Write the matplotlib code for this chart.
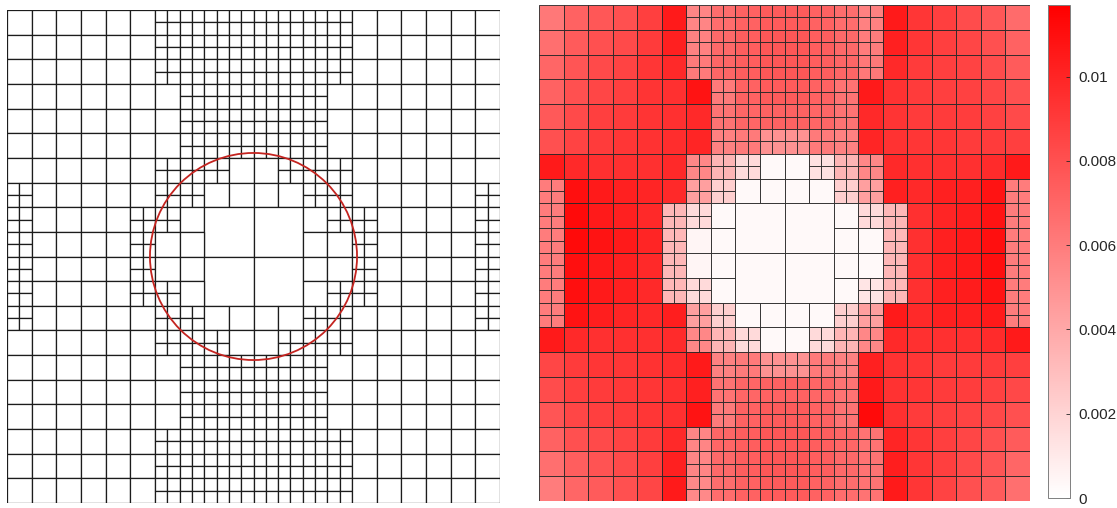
import numpy as np
import matplotlib
matplotlib.use('Agg')
import matplotlib.pyplot as plt
from matplotlib.patches import Rectangle, Circle
from matplotlib.collections import PatchCollection
from matplotlib.colors import LinearSegmentedColormap, Normalize

plt.rcParams['font.family'] = ['Liberation Sans', 'DejaVu Sans']

# Verfeinerungsstufe je Block im 20x20-Raster:
# M = eine Zelle, F = in 4 Zellen geteilt, B = Teil einer 2x2-Grobzelle
mesh_rows = [
    "MMMMMMFFFFFFFFMMMMMM",
    "MMMMMMFFFFFFFFMMMMMM",
    "MMMMMMFFFFFFFFMMMMMM",
    "MMMMMMMFFFFFFMMMMMMM",
    "MMMMMMMFFFFFFMMMMMMM",
    "MMMMMMMFFFFFFMMMMMMM",
    "MMMMMMFFFMMFFFMMMMMM",
    "FMMMMMFFMMMMFFMMMMMF",
    "FMMMMFFMBBBBMFFMMMMF",
    "FMMMMFMMBBBBMMFMMMMF",
    "FMMMMFMMBBBBMMFMMMMF",
    "FMMMMFFMBBBBMFFMMMMF",
    "FMMMMMFFMMMMFFMMMMMF",
    "MMMMMMFFFMMFFFMMMMMM",
    "MMMMMMMFFFFFFMMMMMMM",
    "MMMMMMMFFFFFFMMMMMMM",
    "MMMMMMMFFFFFFMMMMMMM",
    "MMMMMMFFFFFFFFMMMMMM",
    "MMMMMMFFFFFFFFMMMMMM",
    "MMMMMMFFFFFFFFMMMMMM",
]

# Fehlerindikator je Block (in 1e-3)
err_rows = [
    [6.2, 7.2, 7.7, 8.0, 8.8, 10.5, 5.6, 6.7, 7.2, 7.5, 7.5, 7.2, 6.7, 5.8, 10.5, 9.2, 8.8, 8.2, 7.7, 6.8],
    [6.6, 7.5, 8.0, 8.3, 9.0, 10.2, 5.8, 6.9, 7.4, 7.7, 7.7, 7.4, 6.9, 6.0, 10.2, 9.2, 8.8, 8.5, 8.0, 7.2],
    [7.0, 7.8, 8.3, 8.6, 9.2, 9.8, 6.1, 7.0, 7.4, 7.7, 7.7, 7.4, 7.0, 6.2, 9.8, 9.0, 8.8, 8.6, 8.2, 7.5],
    [7.2, 8.0, 8.5, 8.8, 9.3, 9.5, 10.8, 6.1, 7.2, 7.5, 7.5, 7.2, 6.4, 10.5, 9.4, 9.0, 8.8, 8.7, 8.5, 8.0],
    [7.6, 8.3, 8.8, 9.0, 9.3, 9.5, 9.8, 6.4, 7.0, 7.2, 7.2, 7.0, 6.4, 9.8, 9.3, 9.0, 9.0, 8.9, 8.7, 8.3],
    [8.0, 8.6, 9.0, 9.2, 9.4, 9.6, 10.0, 5.8, 6.1, 5.0, 5.0, 6.1, 5.8, 10.0, 9.4, 9.2, 9.2, 9.0, 9.0, 8.8],
    [10.5, 9.8, 9.5, 9.5, 9.5, 9.8, 5.5, 3.4, 1.7, 0.3, 0.3, 1.4, 3.4, 5.5, 9.8, 9.5, 9.5, 9.5, 9.7, 10.5],
    [6.0, 11.0, 10.5, 10.2, 10.0, 9.8, 4.4, 2.2, 0.3, 0.3, 0.3, 0.3, 2.2, 4.4, 10.2, 9.8, 10.2, 10.2, 10.8, 6.0],
    [6.0, 11.2, 10.5, 10.2, 9.8, 3.3, 1.7, 0.3, 0.3, 0.3, 0.3, 0.3, 0.3, 1.7, 3.3, 9.5, 10.0, 10.3, 10.8, 6.0],
    [6.0, 11.2, 10.8, 10.5, 10.0, 3.3, 0.5, 0.3, 0.3, 0.3, 0.3, 0.3, 0.3, 0.3, 3.3, 9.5, 10.2, 10.5, 11.0, 6.0],
    [6.0, 11.0, 10.5, 10.2, 9.8, 3.3, 0.5, 0.3, 0.3, 0.3, 0.3, 0.3, 0.3, 0.3, 3.3, 9.5, 10.2, 10.5, 11.0, 6.0],
    [6.0, 11.0, 10.5, 10.2, 9.8, 3.3, 1.7, 0.3, 0.3, 0.3, 0.3, 0.3, 0.3, 1.2, 3.3, 9.5, 10.2, 10.4, 10.8, 6.0],
    [6.0, 10.8, 10.3, 10.0, 9.8, 10.3, 4.4, 2.2, 0.3, 0.3, 0.3, 0.3, 2.2, 4.4, 10.5, 9.8, 10.2, 10.2, 10.5, 6.0],
    [10.5, 9.8, 9.5, 9.5, 9.5, 9.7, 5.5, 3.4, 1.7, 0.3, 0.3, 1.7, 3.4, 5.5, 9.8, 9.5, 9.5, 9.5, 9.7, 10.5],
    [8.5, 9.0, 9.2, 9.2, 9.4, 9.6, 10.5, 5.8, 6.1, 5.0, 5.0, 6.1, 5.8, 10.2, 9.4, 9.2, 9.0, 9.0, 9.0, 8.8],
    [8.2, 8.8, 9.0, 9.1, 9.2, 9.5, 10.2, 6.4, 7.0, 7.2, 7.2, 7.0, 6.4, 10.5, 9.4, 9.2, 9.0, 8.9, 8.7, 8.4],
    [7.8, 8.5, 8.8, 9.0, 9.2, 9.5, 10.8, 6.1, 7.2, 7.5, 7.5, 7.2, 6.4, 11.2, 9.5, 9.0, 8.8, 8.6, 8.4, 8.0],
    [7.2, 8.0, 8.3, 8.6, 9.0, 9.8, 5.6, 7.0, 7.4, 7.7, 7.7, 7.4, 7.0, 6.4, 10.0, 9.2, 8.8, 8.5, 8.0, 7.5],
    [6.6, 7.4, 7.9, 8.3, 8.8, 10.2, 5.6, 6.9, 7.4, 7.7, 7.7, 7.4, 6.9, 6.4, 10.3, 9.2, 8.8, 8.3, 7.8, 7.0],
    [6.0, 7.0, 7.5, 8.0, 8.5, 10.5, 5.4, 6.7, 7.2, 7.5, 7.5, 7.2, 6.7, 6.4, 10.5, 9.2, 8.6, 8.0, 7.5, 6.6],
]

circle_center = (10.0, 10.0)
circle_radius = 4.2

cbar_ticks = [0, 0.002, 0.004, 0.006, 0.008, 0.01]
cbar_labels = ['0', '0.002', '0.004', '0.006', '0.008', '0.01']
vmax = 0.0117

# Zellen aus der Stufenkarte aufbauen: (x, y, Kantenlaenge, Wert)
cells = []
for r, row in enumerate(mesh_rows):
    for c, kind in enumerate(row):
        val = err_rows[r][c] * 1e-3
        if kind == 'M':
            cells.append((c, r, 1.0, val))
        elif kind == 'F':
            for dy in (0, 0.5):
                for dx in (0, 0.5):
                    cells.append((c + dx, r + dy, 0.5, val))
        elif kind == 'B' and r % 2 == 0 and c % 2 == 0:
            cells.append((c, r, 2.0, val))

fig = plt.figure(figsize=(11.17, 5.08), dpi=100)

# links: Netz mit Kreis
ax1 = fig.add_axes([7/1117, 5/508, 493/1117, 493/508])
rects = [Rectangle((x, y), s, s) for x, y, s, v in cells]
ax1.add_collection(PatchCollection(rects, facecolor='white', edgecolor='#1c1c1c', linewidth=0.9))
ax1.add_patch(Circle(circle_center, circle_radius, fill=False, edgecolor='#c42420', linewidth=1.3, zorder=3))
ax1.set_xlim(0, 20)
ax1.set_ylim(20, 0)
ax1.set_aspect('equal')
ax1.axis('off')

# rechts: Fehler je Zelle
cmap = LinearSegmentedColormap.from_list('weiss_rot', ['#ffffff', '#ff0000'])
norm = Normalize(vmin=0, vmax=vmax)
ax2 = fig.add_axes([539/1117, 7/508, 491/1117, 496/508])
rects2 = [Rectangle((x, y), s, s) for x, y, s, v in cells]
pc = PatchCollection(rects2, cmap=cmap, norm=norm, edgecolor='#262626', linewidth=0.6)
pc.set_array(np.array([v for x, y, s, v in cells]))
ax2.add_collection(pc)
ax2.set_xlim(0, 20)
ax2.set_ylim(20, 0)
ax2.axis('off')

cax = fig.add_axes([1048/1117, 10/508, 22/1117, 493/508])
cb = fig.colorbar(pc, cax=cax, ticks=cbar_ticks)
cb.ax.set_yticklabels(cbar_labels)
cb.ax.tick_params(direction='in', length=3, width=0.6, labelsize=11, colors='#262626', pad=6)
cb.outline.set_edgecolor('#7f7f7f')
cb.outline.set_linewidth(0.7)

fig.savefig('out.png', dpi=100)
